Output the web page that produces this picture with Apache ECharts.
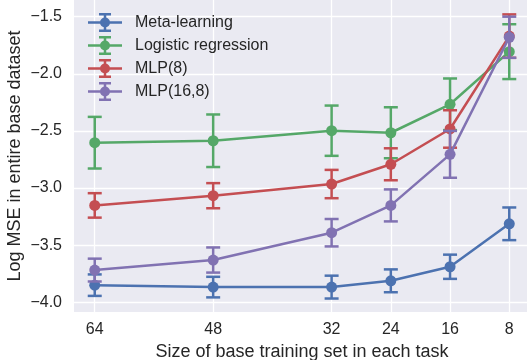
<!DOCTYPE html>
<html>
<head>
<meta charset="utf-8">
<script src="https://cdn.jsdelivr.net/npm/echarts@6/dist/echarts.min.js"></script>
<style>html,body{margin:0;padding:0;background:#fff;}#c{width:527px;height:360px;}</style>
</head>
<body>
<div id="c"></div>
<script>
const sizes = [64, 48, 32, 24, 16, 8];
const xTicks = [64, 48, 32, 24, 16, 8];
const yTicks = [-4.0, -3.5, -3.0, -2.5, -2.0, -1.5];

const metaMean = [-3.850, -3.867, -3.867, -3.812, -3.689, -3.313];
const metaErr  = [0.094, 0.090, 0.100, 0.100, 0.106, 0.143];
const logMean  = [-2.603, -2.586, -2.498, -2.516, -2.267, -1.806];
const logErr   = [0.226, 0.230, 0.220, 0.223, 0.226, 0.240];
const mlp8Mean = [-3.152, -3.067, -2.965, -2.792, -2.483, -1.670];
const mlp8Err  = [0.107, 0.110, 0.124, 0.140, 0.164, 0.190];
const mlp168Mean = [-3.718, -3.630, -3.391, -3.152, -2.705, -1.680];
const mlp168Err  = [0.100, 0.110, 0.120, 0.140, 0.205, 0.180];

const names = ['Meta-learning', 'Logistic regression', 'MLP(8)', 'MLP(16,8)'];
const colors = ['#4C72B0', '#55A868', '#C44E52', '#8172B2'];
const means = [metaMean, logMean, mlp8Mean, mlp168Mean];
const errs = [metaErr, logErr, mlp8Err, mlp168Err];

const FONT = '"Liberation Sans", Arial, sans-serif';
const TXT = '#262626';

const iconPath = 'path://M0 8.25h34v2.5h-34Z M15.75 0h2.5v19h-2.5Z M11 0h12v2.5h-12Z M11 16.5h12v2.5h-12Z M12 9.5a5 5 0 1 1 10 0a5 5 0 1 1 -10 0Z';

const series = [];
names.forEach((nm, i) => {
  const col = colors[i];
  series.push({
    name: nm,
    type: 'custom',
    z: 2 + i * 2,
    silent: true,
    encode: { x: 0, y: 1 },
    data: sizes.map((s, k) => [s, means[i][k], errs[i][k]]),
    itemStyle: { color: col },
    renderItem: (params, api) => {
      const x = api.value(0), y = api.value(1), e = api.value(2);
      const top = api.coord([x, y + e]);
      const bot = api.coord([x, y - e]);
      const hw = 7;
      const st = { stroke: col, lineWidth: 2.5, fill: null };
      return {
        type: 'group',
        children: [
          { type: 'line', shape: { x1: top[0], y1: top[1], x2: bot[0], y2: bot[1] }, style: st },
          { type: 'line', shape: { x1: top[0] - hw, y1: top[1], x2: top[0] + hw, y2: top[1] }, style: st },
          { type: 'line', shape: { x1: bot[0] - hw, y1: bot[1], x2: bot[0] + hw, y2: bot[1] }, style: st }
        ]
      };
    }
  });
  series.push({
    name: nm,
    type: 'line',
    z: 3 + i * 2,
    data: sizes.map((s, k) => [s, means[i][k]]),
    symbol: 'circle',
    symbolSize: 11,
    showSymbol: true,
    itemStyle: { color: col, borderWidth: 0 },
    lineStyle: { color: col, width: 2.5 },
    emphasis: { disabled: true },
    animation: false
  });
});

const chart = echarts.init(document.getElementById('c'), null, { renderer: 'canvas' });
chart.setOption({
  animation: false,
  backgroundColor: '#ffffff',
  grid: {
    left: 74, right: -3, top: 0, bottom: 48,
    outerBoundsMode: 'none',
    containLabel: false,
    show: true, backgroundColor: '#EAEAF2', borderWidth: 0
  },
  legend: {
    data: names.map(n => ({ name: n, icon: iconPath })),
    orient: 'vertical',
    left: 88, top: 13, padding: 0,
    itemWidth: 34, itemHeight: 19, itemGap: 4,
    textStyle: { fontFamily: FONT, fontSize: 16, color: TXT, padding: [0, 0, 0, 8] },
    selectedMode: false
  },
  xAxis: {
    type: 'value',
    inverse: true,
    min: 5.2, max: 66.8,
    name: 'Size of base training set in each task',
    nameLocation: 'middle',
    nameGap: 31,
    nameMoveOverlap: false,
    nameTextStyle: { fontFamily: FONT, fontSize: 18, color: TXT },
    axisLine: { show: false },
    axisTick: { show: false, customValues: xTicks },
    axisLabel: { customValues: xTicks, fontFamily: FONT, fontSize: 16, color: TXT, margin: 10 },
    splitLine: { show: true, lineStyle: { color: '#ffffff', width: 1.3 } }
  },
  yAxis: {
    type: 'value',
    min: -4.085, max: -1.354,
    name: 'Log MSE in entire base dataset',
    nameLocation: 'middle',
    nameGap: 50,
    nameMoveOverlap: false,
    nameTextStyle: { fontFamily: FONT, fontSize: 18, color: TXT },
    axisLine: { show: false },
    axisTick: { show: false, customValues: yTicks },
    axisLabel: {
      customValues: yTicks,
      fontFamily: FONT, fontSize: 16, color: TXT, margin: 12,
      formatter: v => v.toFixed(1).replace('-', '\u2212')
    },
    splitLine: { show: true, lineStyle: { color: '#ffffff', width: 1.3 } }
  },
  series: series
});
</script>
</body>
</html>
